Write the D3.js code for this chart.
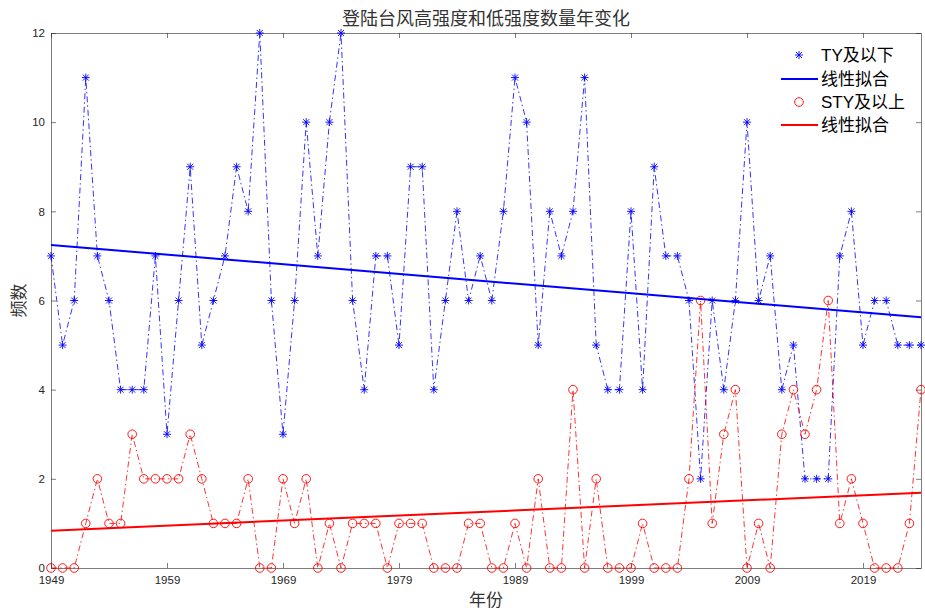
<!DOCTYPE html>
<html>
<head>
<meta charset="utf-8">
<script src="https://cdn.jsdelivr.net/npm/d3@7"></script>
<style>
  body { margin: 0; background: #fff; }
  svg { font-family: "Liberation Sans", Arial, "Noto Sans CJK SC", sans-serif; }
</style>
</head>
<body>
<div class="chart"></div>
<script>
var width = 925
var height = 611

// data
var years = d3.range(1949, 2025)
var tyCounts = [7, 5, 6, 11, 7, 6, 4, 4, 4, 7, 3, 6, 9, 5, 6, 7, 9, 8, 12, 6,
    3, 6, 10, 7, 10, 12, 6, 4, 7, 7, 5, 9, 9, 4, 6, 8, 6, 7, 6, 8,
    11, 10, 5, 8, 7, 8, 11, 5, 4, 4, 8, 4, 9, 7, 7, 6, 2, 6, 4, 6,
    10, 6, 7, 4, 5, 2, 2, 2, 7, 8, 5, 6, 6, 5, 5, 5]
var styCounts = [0, 0, 0, 1, 2, 1, 1, 3, 2, 2, 2, 2, 3, 2, 1, 1, 1, 2, 0, 0,
    2, 1, 2, 0, 1, 0, 1, 1, 1, 0, 1, 1, 1, 0, 0, 0, 1, 1, 0, 0,
    1, 0, 2, 0, 0, 4, 0, 2, 0, 0, 0, 1, 0, 0, 0, 2, 6, 1, 3, 4,
    0, 1, 0, 3, 4, 3, 4, 6, 1, 2, 1, 0, 0, 0, 1, 4]
var xTicks = [1949, 1959, 1969, 1979, 1989, 1999, 2009, 2019]
var yTicks = [0, 2, 4, 6, 8, 10, 12]
var legendLabels = ['TY及以下', '线性拟合', 'STY及以上', '线性拟合']

var margin = { left: 51, right: 4, top: 33, bottom: 43 }
var axisColor = '#262626'

function linearFit(xs, ys) {
    var mx = d3.mean(xs)
    var my = d3.mean(ys)
    var num = 0
    var den = 0
    xs.forEach(function (x, i) {
        num += (x - mx) * (ys[i] - my)
        den += (x - mx) * (x - mx)
    })
    var k = num / den
    return function (x) { return my + k * (x - mx) }
}

var svg = d3.select('.chart').append('svg')
    .attr('width', width)
    .attr('height', height)

var x = d3.scaleLinear().domain([1949, 2024]).range([margin.left, width - margin.right])
var y = d3.scaleLinear().domain([0, 12]).range([height - margin.bottom, margin.top])

// axes with inward ticks
svg.append('g')
    .attr('transform', 'translate(0,' + y(0) + ')')
    .call(d3.axisBottom(x).tickValues(xTicks).tickFormat(d3.format('d')).tickSizeInner(-5).tickSizeOuter(0).tickPadding(8))
svg.append('g')
    .attr('transform', 'translate(0,' + y(12) + ')')
    .call(d3.axisTop(x).tickValues(xTicks).tickFormat('').tickSizeInner(-5).tickSizeOuter(0))
svg.append('g')
    .attr('transform', 'translate(' + x(1949) + ',0)')
    .call(d3.axisLeft(y).tickValues(yTicks).tickSizeInner(-5).tickSizeOuter(0).tickPadding(6))
svg.append('g')
    .attr('transform', 'translate(' + x(2024) + ',0)')
    .call(d3.axisRight(y).tickValues(yTicks).tickFormat('').tickSizeInner(-5).tickSizeOuter(0))

svg.selectAll('.domain, .tick line').attr('stroke', axisColor).attr('stroke-width', 0.6)
svg.selectAll('.tick text').attr('fill', axisColor).attr('font-size', 11.5)

var lineGen = d3.line()
    .x(function (d, i) { return x(years[i]) })
    .y(function (d) { return y(d) })

// series lines (dash-dot)
svg.append('path')
    .datum(tyCounts)
    .attr('d', lineGen)
    .attr('fill', 'none')
    .attr('stroke', 'blue')
    .attr('stroke-width', 0.8)
    .attr('stroke-dasharray', '6,3,1.5,3')

svg.append('path')
    .datum(styCounts)
    .attr('d', lineGen)
    .attr('fill', 'none')
    .attr('stroke', 'red')
    .attr('stroke-width', 0.8)
    .attr('stroke-dasharray', '6,3,1.5,3')

// asterisk markers
var star = 'M-4,0H4M0,-4V4M-3,-3L3,3M-3,3L3,-3'
svg.selectAll('.ty')
    .data(tyCounts)
    .enter()
    .append('path')
    .attr('class', 'ty')
    .attr('transform', function (d, i) { return 'translate(' + x(years[i]) + ',' + y(d) + ')' })
    .attr('d', star)
    .attr('stroke', 'blue')
    .attr('stroke-width', 0.9)
    .attr('fill', 'none')

svg.selectAll('.sty')
    .data(styCounts)
    .enter()
    .append('circle')
    .attr('class', 'sty')
    .attr('cx', function (d, i) { return x(years[i]) })
    .attr('cy', function (d) { return y(d) })
    .attr('r', 4.3)
    .attr('stroke', 'red')
    .attr('stroke-width', 0.9)
    .attr('fill', 'none')

// linear fits
var fits = [
    { f: linearFit(years, tyCounts), color: 'blue' },
    { f: linearFit(years, styCounts), color: 'red' }
]
fits.forEach(function (fit) {
    svg.append('line')
        .attr('x1', x(1949)).attr('y1', y(fit.f(1949)))
        .attr('x2', x(2024)).attr('y2', y(fit.f(2024)))
        .attr('stroke', fit.color)
        .attr('stroke-width', 2)
})

// legend
var legendY = [55, 79, 102, 125]
var legend = svg.append('g')
legend.append('path')
    .attr('transform', 'translate(799,' + legendY[0] + ')')
    .attr('d', star)
    .attr('stroke', 'blue')
    .attr('stroke-width', 0.9)
legend.append('line')
    .attr('x1', 781).attr('x2', 818).attr('y1', legendY[1]).attr('y2', legendY[1])
    .attr('stroke', 'blue').attr('stroke-width', 2)
legend.append('circle')
    .attr('cx', 799).attr('cy', legendY[2]).attr('r', 4.3)
    .attr('stroke', 'red').attr('stroke-width', 0.9).attr('fill', 'none')
legend.append('line')
    .attr('x1', 781).attr('x2', 818).attr('y1', legendY[3]).attr('y2', legendY[3])
    .attr('stroke', 'red').attr('stroke-width', 2)
legend.selectAll('text')
    .data(legendLabels)
    .enter()
    .append('text')
    .attr('x', 821)
    .attr('y', function (d, i) { return legendY[i] })
    .attr('dy', '0.36em')
    .attr('font-size', 17)
    .attr('fill', '#000')
    .text(function (d) { return d })

// title and axis labels
svg.append('text')
    .attr('x', (x(1949) + x(2024)) / 2)
    .attr('y', 25)
    .attr('text-anchor', 'middle')
    .attr('font-size', 18)
    .attr('fill', '#333')
    .text('登陆台风高强度和低强度数量年变化')

svg.append('text')
    .attr('x', (x(1949) + x(2024)) / 2)
    .attr('y', 606)
    .attr('text-anchor', 'middle')
    .attr('font-size', 17)
    .attr('fill', '#333')
    .text('年份')

svg.append('text')
    .attr('transform', 'translate(25,' + y(6) + ') rotate(-90)')
    .attr('text-anchor', 'middle')
    .attr('font-size', 17)
    .attr('fill', '#333')
    .text('频数')
</script>
</body>
</html>
